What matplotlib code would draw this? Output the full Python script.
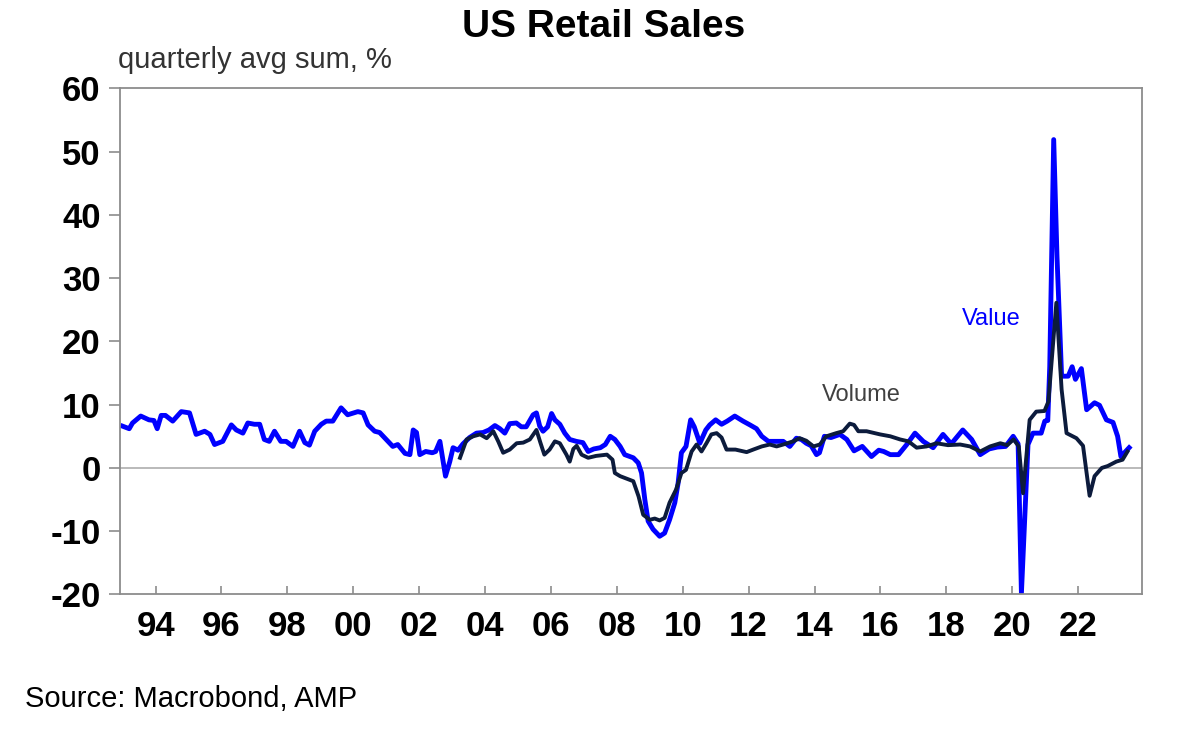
import matplotlib.pyplot as plt

# decimal years
value_t = [1993.0, 1993.2, 1993.3, 1993.55, 1993.8, 1993.95, 1994.05, 1994.17, 1994.3, 1994.52,
           1994.78, 1995.03, 1995.23, 1995.49, 1995.65, 1995.79, 1996.04, 1996.3, 1996.45, 1996.65,
           1996.8, 1997.0, 1997.16, 1997.3, 1997.45, 1997.61, 1997.8, 1997.96, 1998.17, 1998.37,
           1998.53, 1998.67, 1998.83, 1999.03, 1999.18, 1999.38, 1999.63, 1999.83, 2000.14, 2000.3,
           2000.45, 2000.65, 2000.8, 2001.0, 2001.2, 2001.35, 2001.57, 2001.72, 2001.82, 2001.92,
           2002.02, 2002.2, 2002.4, 2002.5, 2002.63, 2002.8, 2002.93, 2003.03, 2003.18, 2003.33,
           2003.53, 2003.74, 2003.94, 2004.12, 2004.3, 2004.45, 2004.6, 2004.75, 2004.95, 2005.1,
           2005.25, 2005.46, 2005.56, 2005.66, 2005.76, 2005.9, 2006.02, 2006.12, 2006.27, 2006.42,
           2006.57, 2006.77, 2006.97, 2007.13, 2007.3, 2007.5, 2007.65, 2007.8, 2007.94, 2008.1,
           2008.24, 2008.5, 2008.65, 2008.75, 2008.85, 2008.95, 2009.1, 2009.3, 2009.45, 2009.6,
           2009.76, 2009.86, 2009.96, 2010.1, 2010.24, 2010.35, 2010.52, 2010.7, 2010.82, 2011.0,
           2011.18, 2011.35, 2011.58, 2011.83, 2012.04, 2012.24, 2012.4, 2012.6, 2012.85, 2013.05,
           2013.25, 2013.45, 2013.6, 2013.75, 2013.9, 2014.06, 2014.15, 2014.3, 2014.5, 2014.77,
           2014.98, 2015.2, 2015.45, 2015.73, 2015.95, 2016.1, 2016.3, 2016.55, 2016.8, 2017.05,
           2017.3, 2017.6, 2017.9, 2018.15, 2018.5, 2018.77, 2019.03, 2019.3, 2019.55, 2019.8,
           2020.03, 2020.18, 2020.28, 2020.48, 2020.63, 2020.88, 2020.99, 2021.08, 2021.14, 2021.26,
           2021.36, 2021.5, 2021.7, 2021.82, 2021.92, 2022.1, 2022.26, 2022.5, 2022.65, 2022.86,
           2023.06, 2023.2, 2023.3, 2023.46, 2023.55]
value_v = [6.6, 6.2, 7.1, 8.2, 7.6, 7.5, 6.2, 8.3, 8.3, 7.4,
           8.9, 8.7, 5.3, 5.8, 5.3, 3.7, 4.2, 6.8, 6.0, 5.5,
           7.1, 6.9, 6.9, 4.5, 4.2, 5.8, 4.2, 4.2, 3.4, 5.8,
           4.0, 3.6, 5.8, 6.9, 7.4, 7.4, 9.5, 8.4, 8.9, 8.7,
           6.8, 5.8, 5.6, 4.5, 3.4, 3.7, 2.3, 2.1, 6.0, 5.6,
           2.1, 2.6, 2.4, 2.6, 4.2, -1.3, 1.0, 3.2, 2.8, 3.8,
           4.8, 5.5, 5.6, 6.0, 6.7, 6.2, 5.5, 7.0, 7.1, 6.5,
           6.5, 8.4, 8.7, 6.6, 5.8, 6.5, 8.6, 7.6, 6.9, 5.5,
           4.5, 4.2, 4.0, 2.6, 3.0, 3.2, 3.7, 5.0, 4.5, 3.4,
           2.1, 1.6, 0.8, -0.8, -5.0, -8.4, -9.7, -10.8, -10.3, -8.2,
           -5.5, -2.4, 2.4, 3.4, 7.6, 6.5, 3.9, 6.0, 6.8, 7.6,
           6.9, 7.4, 8.2, 7.4, 6.8, 6.2, 5.0, 4.2, 4.2, 4.2,
           3.4, 4.7, 4.5, 3.9, 3.5, 2.1, 2.4, 5.0, 4.8, 5.3,
           4.5, 2.7, 3.4, 1.8, 2.8, 2.6, 2.1, 2.1, 3.7, 5.5,
           4.2, 3.2, 5.3, 3.8, 6.0, 4.5, 2.1, 3.0, 3.3, 3.4,
           5.0, 3.8, -19.8, 3.7, 5.5, 5.5, 7.4, 7.5, 16.0, 51.9,
           33.4, 14.5, 14.5, 16.0, 14.0, 15.7, 9.2, 10.3, 9.9, 7.6,
           7.2, 5.0, 1.8, 2.7, 3.2]

volume_t = [2003.24, 2003.44, 2003.64, 2003.85, 2004.05, 2004.25, 2004.4, 2004.55, 2004.75, 2004.96,
            2005.16, 2005.36, 2005.56, 2005.68, 2005.8, 2005.96, 2006.12, 2006.27, 2006.47, 2006.57,
            2006.68, 2006.78, 2006.93, 2007.13, 2007.37, 2007.7, 2007.87, 2007.94, 2008.1, 2008.3,
            2008.5, 2008.66, 2008.8, 2009.0, 2009.15, 2009.3, 2009.45, 2009.6, 2009.8, 2009.96,
            2010.1, 2010.27, 2010.42, 2010.57, 2010.72, 2010.87, 2011.03, 2011.18, 2011.33, 2011.6,
            2011.94, 2012.14, 2012.4, 2012.64, 2012.85, 2013.05, 2013.35, 2013.55, 2013.75, 2013.97,
            2014.16, 2014.36, 2014.66, 2014.87, 2015.07, 2015.2, 2015.33, 2015.58, 2015.99, 2016.3,
            2016.6, 2016.85, 2017.1, 2017.4, 2017.7, 2018.05, 2018.42, 2018.72, 2019.03, 2019.33,
            2019.64, 2019.85, 2020.04, 2020.2, 2020.33, 2020.53, 2020.73, 2020.98, 2021.1, 2021.34,
            2021.5, 2021.65, 2021.95, 2022.15, 2022.35, 2022.5, 2022.72, 2022.9, 2023.16, 2023.35,
            2023.5]
volume_v = [1.6, 4.5, 5.0, 5.3, 4.7, 5.8, 4.2, 2.4, 2.9, 3.9,
            4.0, 4.5, 6.0, 4.0, 2.1, 2.9, 4.2, 3.9, 2.1, 1.0,
            3.0, 3.5, 2.1, 1.6, 1.9, 2.1, 1.3, -0.8, -1.3, -1.7,
            -2.1, -4.5, -7.4, -8.2, -8.0, -8.3, -7.9, -5.5, -3.4, -0.8,
            -0.3, 2.6, 3.7, 2.6, 3.9, 5.3, 5.5, 4.8, 2.9, 2.9,
            2.5, 2.9, 3.4, 3.7, 3.4, 3.7, 4.2, 4.7, 4.3, 3.4,
            3.7, 5.0, 5.5, 5.8, 7.0, 6.8, 5.8, 5.8, 5.3, 5.0,
            4.5, 4.2, 3.2, 3.4, 3.9, 3.6, 3.7, 3.4, 2.6, 3.4,
            3.9, 3.6, 4.5, 3.4, -4.0, 7.6, 8.9, 9.0, 10.5, 26.1,
            12.4, 5.5, 4.7, 3.5, -4.4, -1.3, 0.0, 0.3, 1.0, 1.3,
            2.6]

tick_years = list(range(1994, 2023, 2))
tick_labels = ['94', '96', '98', '00', '02', '04', '06', '08', '10', '12', '14', '16', '18', '20', '22']
y_ticks = [-20, -10, 0, 10, 20, 30, 40, 50, 60]

plt.rcParams['font.family'] = ['Liberation Sans', 'DejaVu Sans']
plt.rcParams['axes.unicode_minus'] = False

fig = plt.figure(figsize=(11.88, 7.33), dpi=100)
ax = fig.add_axes([0.101, 0.189, 0.86, 0.6905])

ax.axhline(0, color='#b4b4b4', linewidth=1.3, zorder=1)
ax.plot(value_t, value_v, '-', color='#0000ff', linewidth=3.5, zorder=2)
ax.plot(volume_t, volume_v, '-', color='#0c1b3c', linewidth=2.8, zorder=3)

ax.set_xlim(1992.92, 2023.93)
ax.set_ylim(-20, 60)
ax.set_xticks(tick_years)
ax.set_xticklabels(tick_labels)
ax.set_yticks(y_ticks)

for s in ax.spines.values():
    s.set_color('#8c8c8c')
    s.set_linewidth(1.3)

ax.tick_params(axis='x', direction='in', length=6, width=1.2, color='#8c8c8c', pad=11,
               labelsize=25)
ax.tick_params(axis='y', direction='out', length=8, width=1.2, color='#8c8c8c', pad=6,
               labelsize=25)
for lbl in ax.get_xticklabels() + ax.get_yticklabels():
    lbl.set_fontweight('bold')

ax.text(2014.22, 10.5, 'Volume', color='#404040', fontsize=17, ha='left', va='baseline')
ax.text(2018.47, 22.6, 'Value', color='#0000ff', fontsize=17, ha='left', va='baseline')

fig.text(0.508, 1 - 37 / 733, 'US Retail Sales', ha='center', va='baseline',
         fontsize=28, fontweight='bold')
fig.text(118 / 1188, 1 - 68 / 733, 'quarterly avg sum, %', ha='left', va='baseline',
         fontsize=21, color='#333333')
fig.text(25 / 1188, 1 - 707 / 733, 'Source: Macrobond, AMP', ha='left', va='baseline',
         fontsize=21, color='#000000')

fig.savefig('out.png', dpi=100)
